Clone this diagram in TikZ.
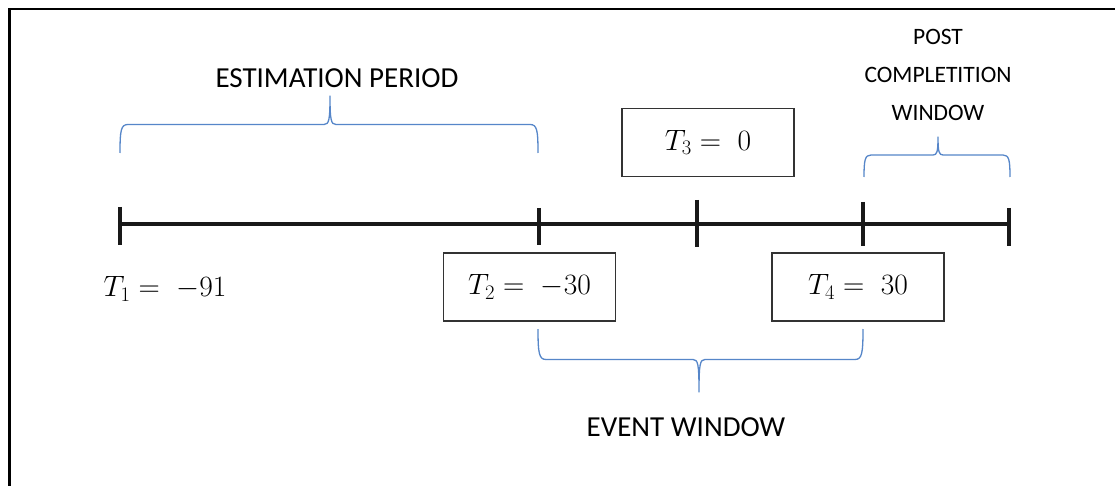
\RequirePackage{fix-cm}
\documentclass[tikz,border=0pt]{standalone}
\usepackage{fontspec}
\setmainfont{Carlito}
\begin{document}
\begin{tikzpicture}[x=1pt,y=-1pt,
  axis/.style={line width=4.5pt,black!90},
  tick/.style={line width=4pt,black!90},
  brace/.style={draw=bracecol,line width=1.3pt,line join=round},
  valbox/.style={draw=black!80,line width=1.4pt,minimum width=172pt,minimum height=68pt,inner sep=0pt,font=\fontsize{29.5}{32}\selectfont},
  vallabel/.style={inner sep=0pt,font=\fontsize{29.5}{32}\selectfont},
  caption/.style={inner sep=0pt,font=\fontsize{29}{35}\selectfont},
  smallcaption/.style={inner sep=0pt,align=center,font=\fontsize{23.5}{38}\selectfont}]
\definecolor{bracecol}{RGB}{86,134,201}
\useasboundingbox (0,0) rectangle (1115,486);
\fill[white] (0,0) rectangle (1115,486);

% frame
\draw[line width=2.8pt,black] (9.5,486) -- (9.5,9) -- (1115,9);

% time axis and its marks
\coordinate (t1) at (120,224);
\coordinate (t2) at (539,224);
\coordinate (t3) at (697,224);
\coordinate (t4) at (863,224);
\coordinate (t5) at (1009,224);
\draw[axis] (t1) -- (t5);
\draw[tick] (120,207) -- (120,245);
\draw[tick] (539,208) -- (539,245);
\draw[tick] (697,200) -- (697,247);
\draw[tick] (863,202) -- (863,246);
\draw[tick] (1009,208) -- (1009,246);

% values
\node[vallabel] (v1) at (165,289) {$T_1 =\; -91$};
\node[valbox] (v2) at (529.5,287) {$T_2 =\; -30$};
\node[valbox] (v3) at (708,142.5) {$T_3 =\; 0$};
\node[valbox] (v4) at (858,287) {$T_4 =\; 30$};

% braces
\draw[brace] (120,153) .. controls (120,130) and (121,124.5) .. (128,124.5) -- (324,124.5)
  .. controls (329,124.5) and (330,120) .. (330,96)
  .. controls (330,120) and (331,124.5) .. (336,124.5) -- (530,124.5)
  .. controls (537,124.5) and (538,130) .. (538,153);
\draw[brace] (864,177) .. controls (864,160) and (865,155) .. (871,155) -- (933,155)
  .. controls (937,155) and (938,152) .. (938,137)
  .. controls (938,152) and (939,155) .. (943,155) -- (1003,155)
  .. controls (1009,155) and (1010,160) .. (1010,177);
\draw[brace] (538,329) .. controls (538,353) and (539,359.5) .. (546,359.5) -- (693,359.5)
  .. controls (698,359.5) and (699,364) .. (699,392)
  .. controls (699,364) and (700,359.5) .. (705,359.5) -- (855,359.5)
  .. controls (862,359.5) and (863,353) .. (863,329);

% period names
\node[caption] (est) at (337,78) {ESTIMATION PERIOD};
\node[smallcaption] (post) at (938,75) {POST\\COMPLETITION\\WINDOW};
\node[caption] (evt) at (686,427) {EVENT WINDOW};
\end{tikzpicture}
\end{document}
